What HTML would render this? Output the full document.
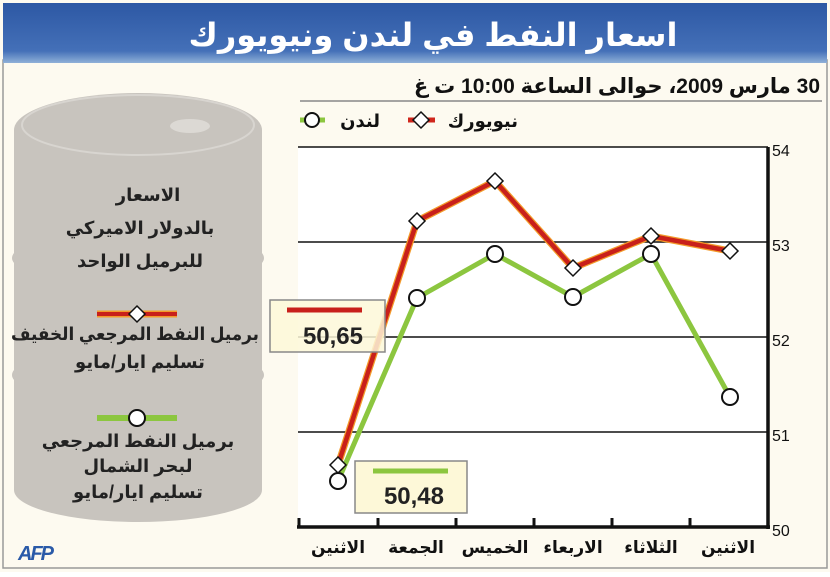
<!DOCTYPE html>
<html><head><meta charset="utf-8"><style>
body{margin:0;background:#fff;}
svg text{font-family:"Liberation Sans","DejaVu Sans",sans-serif;}
</style></head><body>
<svg width="830" height="572" viewBox="0 0 830 572" xmlns="http://www.w3.org/2000/svg">
<defs>
<linearGradient id="tb" x1="0" y1="0" x2="0" y2="1">
<stop offset="0" stop-color="#2d58a4"/><stop offset="0.8" stop-color="#4470b8"/><stop offset="1" stop-color="#8fb0d8"/>
</linearGradient>
</defs>
<rect x="0" y="0" width="830" height="572" fill="#fdfaf0"/>
<rect x="3" y="60" width="824" height="508" fill="#fdfaf0" stroke="#999" stroke-width="1.5"/>
<rect x="3" y="3" width="824" height="60" fill="url(#tb)"/>
<text x="433" y="46" font-size="32" font-weight="bold" fill="#fff" text-anchor="middle" font-family="'DejaVu Sans',sans-serif">اسعار النفط في لندن ونيويورك</text>
<text x="820" y="93" font-size="21" font-weight="bold" fill="#111" text-anchor="start" direction="rtl" font-family="'DejaVu Sans',sans-serif">30 مارس 2009، حوالى الساعة 10:00 ت غ</text>
<line x1="300" y1="101" x2="822" y2="101" stroke="#888" stroke-width="1.5"/>
<!-- legend -->
<line x1="300" y1="120" x2="325" y2="120" stroke="#8cc63f" stroke-width="5"/>
<circle cx="312" cy="120" r="7" fill="#fff" stroke="#111" stroke-width="2"/>
<text x="380" y="127" font-size="18" font-weight="bold" fill="#111" text-anchor="end" font-family="'DejaVu Sans',sans-serif">لندن</text>
<line x1="408" y1="120" x2="435" y2="120" stroke="#d0261c" stroke-width="5"/>
<path d="M421 112 L429 120 L421 128 L413 120 Z" fill="#fff" stroke="#111" stroke-width="1.5"/>
<text x="518" y="127" font-size="18" font-weight="bold" fill="#111" text-anchor="end" font-family="'DejaVu Sans',sans-serif">نيويورك</text>
<!-- plot -->
<rect x="298" y="147" width="470" height="380" fill="#fff"/>
<g stroke="#111" stroke-width="1.5">
<line x1="298" y1="147" x2="768" y2="147"/>
<line x1="298" y1="242" x2="768" y2="242"/>
<line x1="298" y1="337" x2="768" y2="337"/>
<line x1="298" y1="432" x2="768" y2="432"/>
</g>
<line x1="768" y1="147" x2="768" y2="529" stroke="#111" stroke-width="3.5"/>
<line x1="297" y1="527" x2="770" y2="527" stroke="#111" stroke-width="3.5"/>
<g stroke="#111" stroke-width="3">
<line x1="299" y1="518" x2="299" y2="527"/><line x1="378" y1="518" x2="378" y2="527"/><line x1="456" y1="518" x2="456" y2="527"/><line x1="534" y1="518" x2="534" y2="527"/><line x1="612" y1="518" x2="612" y2="527"/><line x1="690" y1="518" x2="690" y2="527"/>
</g>
<g font-size="16" fill="#111">
<text x="772" y="156">54</text><text x="772" y="251">53</text><text x="772" y="346">52</text><text x="772" y="441">51</text><text x="772" y="536">50</text>
</g>
<g font-size="17" font-weight="bold" fill="#111" text-anchor="middle" font-family="'DejaVu Sans',sans-serif">
<text x="338" y="553">الاثنين</text><text x="416" y="553">الجمعة</text><text x="495" y="553">الخميس</text><text x="573" y="553">الاربعاء</text><text x="651" y="553">الثلاثاء</text><text x="728" y="553">الاثنين</text>
</g>
<polyline points="338,465 417,221 495,181 573,268 651,236 730,251" fill="none" stroke="#f39a2a" stroke-width="7" stroke-linejoin="round"/>
<polyline points="338,465 417,221 495,181 573,268 651,236 730,251" fill="none" stroke="#c8201b" stroke-width="4.5" stroke-linejoin="round"/>
<polyline points="338,481 417,298 495,254 573,297 651,254 730,397" fill="none" stroke="#8cc63f" stroke-width="5" stroke-linejoin="round"/>
<g fill="#fff" stroke="#111" stroke-width="1.5">
<path d="M338 457 L346 465 L338 473 L330 465 Z"/><path d="M417 213 L425 221 L417 229 L409 221 Z"/><path d="M495 173 L503 181 L495 189 L487 181 Z"/><path d="M573 260 L581 268 L573 276 L565 268 Z"/><path d="M651 228 L659 236 L651 244 L643 236 Z"/><path d="M730 243 L738 251 L730 259 L722 251 Z"/>
</g>
<g fill="#fff" stroke="#111" stroke-width="2">
<circle cx="338" cy="481" r="8"/><circle cx="417" cy="298" r="8"/><circle cx="495" cy="254" r="8"/><circle cx="573" cy="297" r="8"/><circle cx="651" cy="254" r="8"/><circle cx="730" cy="397" r="8"/>
</g>
<!-- value boxes -->
<rect x="270" y="300" width="115" height="52" fill="#fdf8d8" fill-opacity="0.85" stroke="#888" stroke-width="1.5"/>
<line x1="287" y1="310" x2="362" y2="310" stroke="#c8201b" stroke-width="5"/>
<text x="363" y="344" font-size="24" font-weight="bold" fill="#222" text-anchor="end">50,65</text>
<rect x="355" y="461" width="112" height="52" fill="#fdf8d8" stroke="#888" stroke-width="1.5"/>
<line x1="373" y1="471" x2="448" y2="471" stroke="#8cc63f" stroke-width="5"/>
<text x="444" y="504" font-size="24" font-weight="bold" fill="#222" text-anchor="end">50,48</text>
<!-- barrel -->
<g fill="#c8c4be">
<rect x="14" y="130" width="248" height="360"/>
<ellipse cx="138" cy="130" rx="124" ry="37"/>
<ellipse cx="138" cy="490" rx="124" ry="32"/>
<ellipse cx="138" cy="258" rx="126" ry="28"/>
<ellipse cx="138" cy="375" rx="126" ry="28"/>
</g>
<ellipse cx="138" cy="125" rx="116" ry="30" fill="none" stroke="#d8d5d0" stroke-width="2"/>
<ellipse cx="190" cy="126" rx="20" ry="7" fill="#dcd9d4"/>
<g font-size="18" font-weight="bold" fill="#222" text-anchor="middle" font-family="'DejaVu Sans',sans-serif">
<text x="148" y="201">الاسعار</text>
<text x="140" y="234">بالدولار الاميركي</text>
<text x="140" y="267">للبرميل الواحد</text>
<text x="135" y="340" textLength="248" lengthAdjust="spacingAndGlyphs">برميل النفط المرجعي الخفيف</text>
<text x="140" y="368">تسليم ايار/مايو</text>
<text x="138" y="447">برميل النفط المرجعي</text>
<text x="138" y="472">لبحر الشمال</text>
<text x="138" y="498">تسليم ايار/مايو</text>
</g>
<line x1="97" y1="314" x2="177" y2="314" stroke="#f39a2a" stroke-width="7"/>
<line x1="97" y1="314" x2="177" y2="314" stroke="#c8201b" stroke-width="4"/>
<path d="M137 306 L145 314 L137 322 L129 314 Z" fill="#fff" stroke="#111" stroke-width="1.5"/>
<line x1="97" y1="418" x2="177" y2="418" stroke="#8cc63f" stroke-width="6"/>
<circle cx="137" cy="418" r="8" fill="#fff" stroke="#111" stroke-width="2"/>
<text x="18" y="560" font-size="20" font-weight="bold" font-style="italic" fill="#2a5aa8" letter-spacing="-2">AFP</text>
</svg>
</body></html>
